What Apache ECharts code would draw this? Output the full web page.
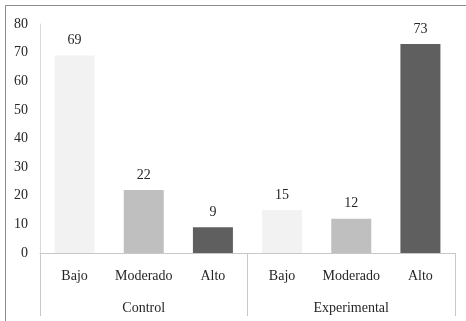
<!DOCTYPE html>
<html>
<head>
<meta charset="utf-8">
<script src="https://cdn.jsdelivr.net/npm/echarts@6/dist/echarts.min.js"></script>
<style>
  html, body { margin: 0; padding: 0; background: #fff; }
  #chart { width: 466px; height: 321px; }
</style>
</head>
<body>
<div id="chart"></div>
<script>
// Levels within each group, and the two groups
const levels = ['Bajo', 'Moderado', 'Alto'];
const groups = ['Control', 'Experimental'];

// Percentages per level
const controlValues = [69, 22, 9];
const experimentalValues = [15, 12, 73];

// Value axis range
const yMin = 0;
const yMax = 80;
const yStep = 10;

const levelColors = ['#f2f2f2', '#bfbfbf', '#5f5f5f'];
const textFont = '"Liberation Serif", "Times New Roman", serif';
const textColor = '#262626';

const groupValues = [controlValues, experimentalValues];
const categories = [];
const barData = [];
groups.forEach(function (g, gi) {
  levels.forEach(function (lv, li) {
    categories.push(lv);
    barData.push({
      value: groupValues[gi][li],
      itemStyle: { color: levelColors[li] }
    });
  });
});

const chart = echarts.init(document.getElementById('chart'), null, { renderer: 'canvas' });
chart.setOption({
  animation: false,
  backgroundColor: '#ffffff',
  graphic: [{
    type: 'rect',
    shape: { x: 5.5, y: 5.5, width: 700, height: 700 },
    style: { fill: 'none', stroke: '#8c8c8c', lineWidth: 1 },
    silent: true
  }],
  grid: { left: 40, right: 11, top: 24, bottom: 68, containLabel: false },
  xAxis: [{
    type: 'category',
    data: categories,
    boundaryGap: true,
    axisLine: { show: true, lineStyle: { color: '#c8c8c8', width: 1 } },
    axisTick: { show: false },
    axisLabel: {
      interval: 0,
      margin: 16,
      fontFamily: textFont,
      fontSize: 14,
      color: textColor
    },
    splitLine: { show: false }
  }, {
    type: 'category',
    data: groups,
    position: 'bottom',
    boundaryGap: true,
    axisLine: { show: false },
    axisTick: {
      show: true,
      interval: 0,
      length: 63,
      lineStyle: { color: '#c8c8c8', width: 1 }
    },
    axisLabel: {
      interval: 0,
      margin: 48,
      fontFamily: textFont,
      fontSize: 14,
      color: textColor
    },
    splitLine: { show: false }
  }],
  yAxis: {
    type: 'value',
    min: yMin,
    max: yMax,
    interval: yStep,
    axisLine: { show: true, lineStyle: { color: '#d9d9d9', width: 1 } },
    axisTick: { show: false },
    splitLine: { show: false },
    axisLabel: {
      margin: 12,
      fontFamily: textFont,
      fontSize: 14,
      color: textColor
    }
  },
  series: [{
    type: 'bar',
    xAxisIndex: 0,
    data: barData,
    barWidth: 40,
    label: {
      show: true,
      position: 'top',
      distance: 8,
      fontFamily: textFont,
      fontSize: 14,
      color: textColor
    }
  }]
});
</script>
</body>
</html>
